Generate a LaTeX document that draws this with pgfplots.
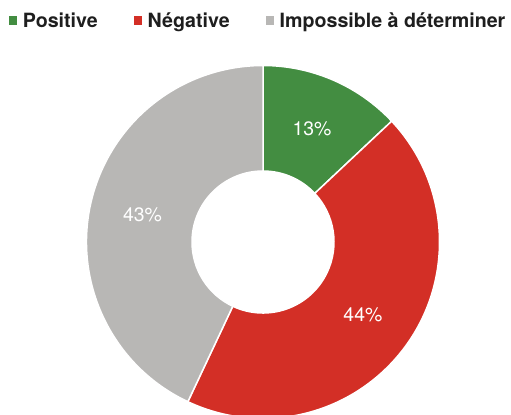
\documentclass[border=0pt]{standalone}
\usepackage{fontspec}
\setmainfont{TeX Gyre Heros}
\usepackage{pgfplots}
\pgfplotsset{compat=1.18}
\usepackage{pgfplotstable}
\definecolor{posc}{HTML}{438D41}
\definecolor{negc}{HTML}{D32F26}
\definecolor{impc}{HTML}{B8B7B5}
\definecolor{txtc}{HTML}{1E1E1E}

\pgfplotstableread{
category value
Positive 13
Negative 44
Impossible 43
}\donut
\pgfplotstablegetelem{0}{value}\of{\donut}\let\vA\pgfplotsretval
\pgfplotstablegetelem{1}{value}\of{\donut}\let\vB\pgfplotsretval
\pgfplotstablegetelem{2}{value}\of{\donut}\let\vC\pgfplotsretval
\pgfmathsetmacro{\aA}{90}
\pgfmathsetmacro{\aB}{\aA-3.6*\vA}
\pgfmathsetmacro{\aC}{\aB-3.6*\vB}
\pgfmathsetmacro{\aD}{\aC-3.6*\vC}
\pgfmathsetmacro{\mA}{(\aA+\aB)/2}
\pgfmathsetmacro{\mB}{(\aB+\aC)/2}
\pgfmathsetmacro{\mC}{(\aC+\aD)/2}
\def\Ro{176.5bp}
\def\Ri{71bp}
\def\Rl{123.5bp}

\begin{document}
\begin{tikzpicture}
\begin{axis}[
  name=ax,
  x=1bp, y=1bp,
  xmin=-263, xmax=248, ymin=-172, ymax=242,
  hide axis,
  legend columns=-1,
  legend image code/.code={\fill[#1, draw=none] (0bp,-4.5bp) rectangle (8bp,4.5bp);},
  legend style={at={(axis cs:-254,221.5)}, anchor=west, draw=none, fill=none,
    inner sep=0pt, outer sep=0pt,
    font=\bfseries\fontsize{19.7}{22}\selectfont, text=txtc,
    nodes={inner sep=0pt, outer sep=0pt},
    /tikz/every odd column/.style={column sep=6bp},
    /tikz/every even column/.style={column sep=36bp}},
]
\addlegendimage{fill=posc}
\addlegendentry{Positive}
\addlegendimage{fill=negc}
\addlegendentry{Négative}
\addlegendimage{fill=impc}
\addlegendentry{Impossible à déterminer}
\begin{scope}[shift={(axis cs:0,0)}]
  \fill[posc, draw=white, line width=1.5bp] (\aA:\Ro) arc[start angle=\aA, end angle=\aB, radius=\Ro] -- (\aB:\Ri) arc[start angle=\aB, end angle=\aA, radius=\Ri] -- cycle;
  \fill[negc, draw=white, line width=1.5bp] (\aB:\Ro) arc[start angle=\aB, end angle=\aC, radius=\Ro] -- (\aC:\Ri) arc[start angle=\aC, end angle=\aB, radius=\Ri] -- cycle;
  \fill[impc, draw=white, line width=1.5bp] (\aC:\Ro) arc[start angle=\aC, end angle=\aD, radius=\Ro] -- (\aD:\Ri) arc[start angle=\aD, end angle=\aC, radius=\Ri] -- cycle;
  \node[text=white, font=\fontsize{19.5}{22}\selectfont] at (\mA:\Rl) {\vA\%};
  \node[text=white, font=\fontsize{19.5}{22}\selectfont] at (\mB:\Rl) {\vB\%};
  \node[text=white, font=\fontsize{19.5}{22}\selectfont] at (\mC:\Rl) {\vC\%};
\end{scope}
\end{axis}
\pgfresetboundingbox
\useasboundingbox (ax.south west) rectangle (ax.north east);
\end{tikzpicture}
\end{document}
